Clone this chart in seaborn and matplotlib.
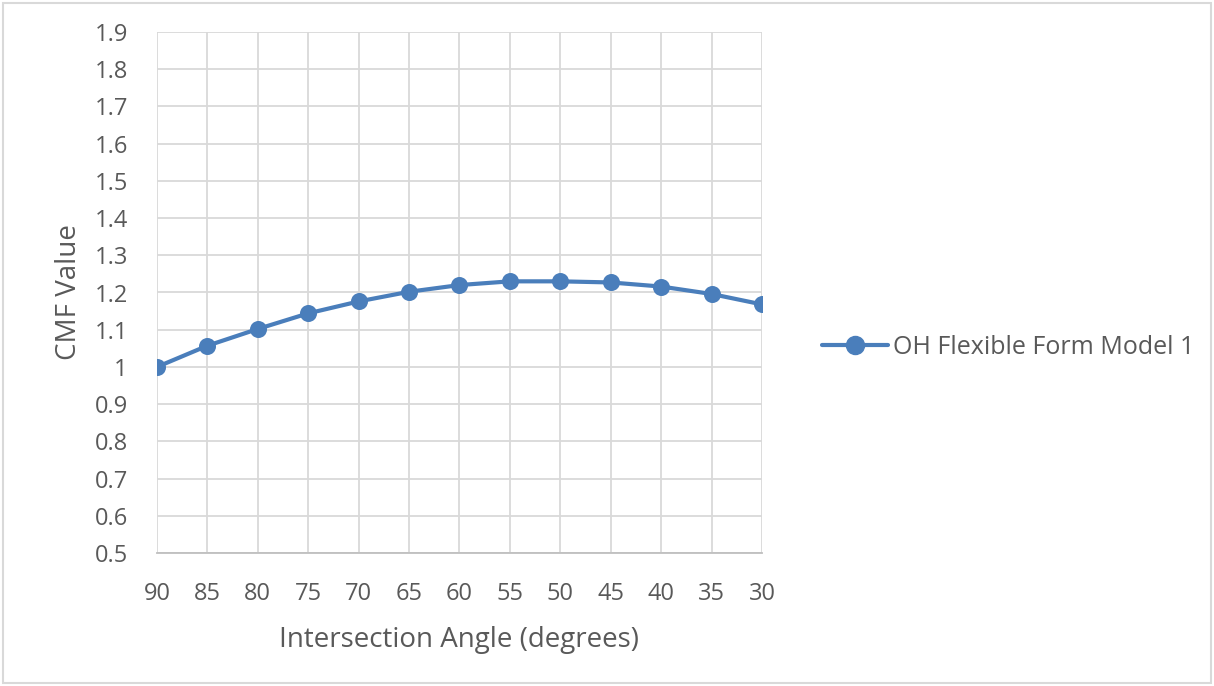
import matplotlib
matplotlib.use("Agg")
import matplotlib.pyplot as plt
import seaborn as sns
import pandas as pd
from matplotlib.patches import Rectangle
from matplotlib.lines import Line2D

angles = ["90", "85", "80", "75", "70", "65", "60", "55", "50", "45", "40", "35", "30"]
cmf = [1.0, 1.057, 1.102, 1.144, 1.176, 1.202, 1.220, 1.230, 1.230, 1.227, 1.216, 1.196, 1.168]
y_ticks = [0.5, 0.6, 0.7, 0.8, 0.9, 1.0, 1.1, 1.2, 1.3, 1.4, 1.5, 1.6, 1.7, 1.8, 1.9]
y_tick_labels = ["0.5", "0.6", "0.7", "0.8", "0.9", "1", "1.1", "1.2", "1.3", "1.4", "1.5", "1.6", "1.7", "1.8", "1.9"]
series_name = "OH Flexible Form Model 1"

df = pd.DataFrame({"angle": angles, "cmf": cmf})

sns.set_style("white")
plt.rcParams["font.family"] = ["Open Sans", "DejaVu Sans"]

line_color = "#4a7ebb"
text_color = "#595959"
grid_color = "#d9d9d9"

fig = plt.figure(figsize=(12.14, 6.86), dpi=100)
ax = fig.add_axes([157 / 1214, 1 - 553 / 686, (762 - 157) / 1214, (553 - 32) / 686])

sns.pointplot(data=df, x="angle", y="cmf", order=angles, color=line_color,
              markers="o", markersize=10, linewidth=3.0, ax=ax)

ax.set_xlim(0, len(angles) - 1)
ax.set_ylim(0.5, 1.9)
ax.set_yticks(y_ticks)
ax.set_yticklabels(y_tick_labels)
ax.set_xticks(range(len(angles)))
ax.set_xticklabels(angles)

ax.grid(True, color=grid_color, linewidth=1.3)
ax.set_axisbelow(True)
for s in ["top", "right", "left"]:
    ax.spines[s].set_visible(False)
ax.spines["bottom"].set_color("#bfbfbf")
ax.spines["bottom"].set_linewidth(1.3)
ax.tick_params(axis="both", length=0, labelsize=17, labelcolor=text_color)
ax.tick_params(axis="y", pad=21)
ax.tick_params(axis="x", pad=21)

ax.set_xlabel("Intersection Angle (degrees)", fontsize=20, color=text_color, labelpad=14)
ax.set_ylabel("CMF Value", fontsize=20, color=text_color, labelpad=8)

handle = Line2D([], [], color=line_color, marker="o", markersize=13, linewidth=3.0)
fig.legend([handle], [series_name], loc="center left",
           bbox_to_anchor=(822 / 1214, 1 - 347 / 686), frameon=False,
           borderaxespad=0, borderpad=0,
           fontsize=18, labelcolor=text_color, handlelength=2.64, handletextpad=0.2)

fig.patches.append(Rectangle((3 / 1214, 3 / 686), 1 - 6 / 1214, 1 - 6 / 686,
                             transform=fig.transFigure, fill=False,
                             edgecolor="#d9d9d9", linewidth=1.5))

fig.savefig("out.png", dpi=100)
